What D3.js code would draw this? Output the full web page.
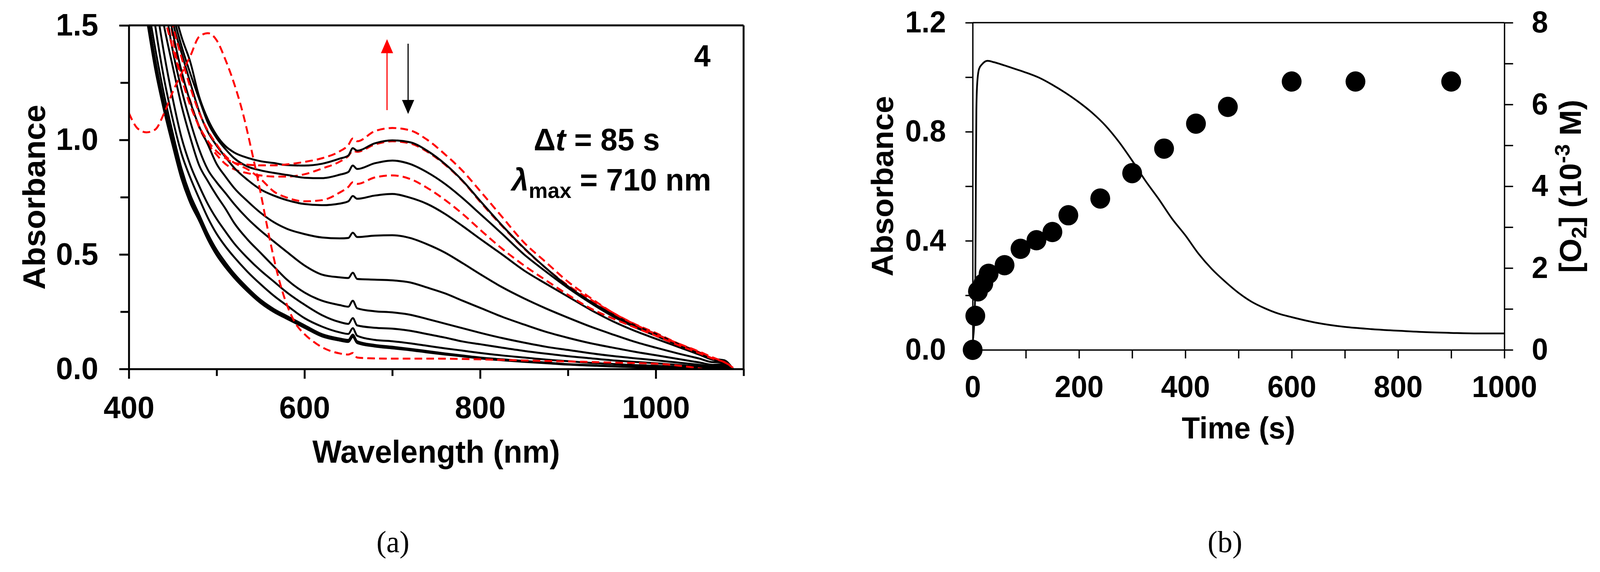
<!DOCTYPE html>
<html>
<head>
<meta charset="utf-8">
<script src="https://cdn.jsdelivr.net/npm/d3@7"></script>
<style>
  html, body { margin: 0; padding: 0; background: #fff; overflow: hidden; }
  svg { display: block; background: #fff; width: 100vw; height: 100vh; }
  text { font-family: "Liberation Sans", Arial, Helvetica, sans-serif; font-weight: bold; fill: #000; }
  .panel-label { font-family: "Liberation Serif", "Times New Roman", serif; font-weight: normal; }
  .axisA path, .axisA line { stroke: #000; stroke-width: 5; }
  .axisB path, .axisB line { stroke: #000; stroke-width: 3.5; }
</style>
</head>
<body>
<svg id="chart" viewBox="0 0 4198 1465" preserveAspectRatio="none"></svg>
<script>
// ---------------- panel (a): spectra ----------------
// shared wavelength grid (nm) for the time-resolved spectra
var wl = [420, 430, 440, 450, 460, 470, 480, 490, 500, 510,
          520, 535, 550, 565, 580, 600, 620, 640, 650, 655,
          660, 680, 700, 720, 740, 760, 780, 800, 825, 850,
          875, 900, 925, 950, 975, 1000, 1025, 1050, 1065, 1078, 1088];

// black solid spectra, top to bottom
var spec1 = [null, null, 1.85, 1.60, 1.45, 1.34, 1.19, 1.09, 1.02, 0.973,
             0.945, 0.922, 0.907, 0.899, 0.890, 0.888, 0.896, 0.918, 0.932, 0.964,
             0.953, 0.985, 0.998, 0.990, 0.952, 0.895, 0.822, 0.734, 0.627, 0.528,
             0.440, 0.361, 0.296, 0.240, 0.192, 0.153, 0.110, 0.070, 0.045, 0.038, 0.0];
var spec2 = [null, null, 1.80, 1.56, 1.41, 1.29, 1.18, 1.075, 1.008, 0.96,
             0.92, 0.884, 0.867, 0.856, 0.847, 0.835, 0.833, 0.848, 0.860, 0.888,
             0.873, 0.898, 0.910, 0.895, 0.858, 0.808, 0.746, 0.677, 0.590, 0.500,
             0.425, 0.354, 0.290, 0.232, 0.184, 0.145, 0.105, 0.067, 0.043, 0.036, 0.0];
var spec3 = [null, null, 1.78, 1.52, 1.38, 1.25, 1.125, 1.035, 0.975, 0.925,
             0.878, 0.826, 0.784, 0.757, 0.737, 0.720, 0.715, 0.722, 0.732, 0.755,
             0.743, 0.757, 0.764, 0.748, 0.720, 0.677, 0.624, 0.568, 0.500, 0.430,
             0.372, 0.316, 0.260, 0.210, 0.168, 0.132, 0.097, 0.062, 0.040, 0.034, 0.0];
var spec4 = [null, null, 1.68, 1.47, 1.30, 1.165, 1.06, 0.98, 0.895, 0.84,
             0.79, 0.733, 0.682, 0.641, 0.612, 0.589, 0.574, 0.570, 0.572, 0.595,
             0.576, 0.582, 0.584, 0.572, 0.544, 0.508, 0.462, 0.414, 0.357, 0.308,
             0.264, 0.224, 0.186, 0.152, 0.120, 0.093, 0.068, 0.045, 0.030, 0.030, 0.0];
var spec5 = [null, null, 1.62, 1.39, 1.22, 1.08, 0.96, 0.87, 0.815, 0.768,
             0.72, 0.657, 0.604, 0.557, 0.511, 0.452, 0.412, 0.400, 0.397, 0.420,
             0.393, 0.390, 0.387, 0.378, 0.355, 0.330, 0.298, 0.267, 0.228, 0.194,
             0.162, 0.136, 0.113, 0.094, 0.076, 0.060, 0.044, 0.028, 0.018, 0.022, 0.0];
var spec6 = [null, 1.72, 1.50, 1.32, 1.15, 1.01, 0.89, 0.82, 0.757, 0.70,
             0.637, 0.566, 0.507, 0.448, 0.39, 0.334, 0.298, 0.279, 0.272, 0.298,
             0.265, 0.252, 0.247, 0.237, 0.218, 0.198, 0.178, 0.158, 0.135, 0.115,
             0.097, 0.083, 0.069, 0.057, 0.047, 0.038, 0.028, 0.018, 0.012, 0.016, 0.0];
var spec7 = [null, 1.62, 1.38, 1.18, 1.01, 0.89, 0.80, 0.72, 0.655, 0.60,
             0.548, 0.485, 0.43, 0.382, 0.334, 0.281, 0.235, 0.205, 0.197, 0.222,
             0.19, 0.18, 0.176, 0.167, 0.152, 0.137, 0.12, 0.108, 0.093, 0.079,
             0.067, 0.056, 0.047, 0.038, 0.031, 0.025, 0.018, 0.011, 0.007, 0.012, 0.0];
var spec8 = [1.78, 1.50, 1.27, 1.09, 0.94, 0.835, 0.745, 0.66, 0.59, 0.535,
             0.488, 0.425, 0.37, 0.32, 0.277, 0.222, 0.185, 0.16, 0.153, 0.178,
             0.145, 0.127, 0.121, 0.112, 0.101, 0.09, 0.08, 0.07, 0.059, 0.05,
             0.041, 0.034, 0.027, 0.022, 0.017, 0.014, 0.01, 0.006, 0.004, 0.01, 0.0];
var spec9 = [1.62, 1.40, 1.20, 1.03, 0.875, 0.76, 0.675, 0.59, 0.52, 0.465,
             0.416, 0.355, 0.302, 0.262, 0.231, 0.191, 0.152, 0.133, 0.127, 0.15,
             0.121, 0.105, 0.097, 0.088, 0.078, 0.068, 0.059, 0.05, 0.042, 0.035,
             0.028, 0.021, 0.017, 0.013, 0.01, 0.007, 0.005, 0.003, 0.002, 0.007, 0.0];
var spec10 = [1.58, 1.35, 1.16, 1.0, 0.85, 0.74, 0.66, 0.575, 0.505, 0.452,
              0.405, 0.345, 0.293, 0.254, 0.224, 0.185, 0.146, 0.128, 0.122, 0.145,
              0.117, 0.101, 0.093, 0.085, 0.075, 0.065, 0.057, 0.048, 0.04, 0.033,
              0.027, 0.02, 0.016, 0.012, 0.009, 0.006, 0.004, 0.002, 0.001, 0.006, 0.0];
var spec11 = [1.54, 1.31, 1.13, 0.975, 0.83, 0.725, 0.648, 0.565, 0.497, 0.444,
              0.398, 0.339, 0.288, 0.249, 0.219, 0.180, 0.142, 0.124, 0.118, 0.14,
              0.113, 0.098, 0.09, 0.082, 0.072, 0.063, 0.055, 0.046, 0.038, 0.031,
              0.025, 0.019, 0.015, 0.011, 0.008, 0.005, 0.003, 0.001, 0.0, 0.005, 0.0];

// red dashed spectra
var redTop = [null, 1.75, 1.55, 1.40, 1.27, 1.15, 1.06, 0.995, 0.95, 0.92,
              0.90, 0.892, 0.889, 0.889, 0.893, 0.904, 0.92, 0.95, 0.978, 1.006,
              0.994, 1.038, 1.052, 1.042, 1.0, 0.937, 0.865, 0.777, 0.664, 0.552,
              0.466, 0.381, 0.312, 0.248, 0.197, 0.152, 0.112, 0.075, 0.05, 0.03, 0.008];
var redMid = [null, null, 1.75, 1.45, 1.28, 1.17, 1.055, 0.985, 0.935, 0.895,
              0.872, 0.855, 0.845, 0.84, 0.84, 0.85, 0.875, 0.905, 0.93, 0.952,
              0.948, 0.98, 0.994, 0.985, 0.948, 0.892, 0.82, 0.73, 0.624, 0.526,
              0.44, 0.365, 0.305, 0.248, 0.198, 0.157, 0.112, 0.072, 0.046, 0.035, 0.0];
var redLow = [null, null, 1.68, 1.50, 1.36, 1.23, 1.12, 1.04, 0.98, 0.93,
              0.90, 0.872, 0.83, 0.775, 0.748, 0.732, 0.737, 0.77, 0.795, 0.815,
              0.808, 0.836, 0.845, 0.83, 0.79, 0.738, 0.677, 0.608, 0.525, 0.452,
              0.387, 0.324, 0.266, 0.222, 0.183, 0.145, 0.105, 0.068, 0.045, 0.03, 0.005];

// starting spectrum (red dashed, band at 490 nm) on its own grid
var wlStart = [400, 410, 420, 430, 440, 450, 460, 470, 480, 490,
               500, 510, 520, 530, 540, 550, 560, 570, 580, 590,
               600, 610, 620, 640, 650, 655, 660, 680, 700, 750,
               800, 850, 900, 950, 1000, 1025, 1040, 1053];
var absStart = [1.118, 1.05, 1.033, 1.045, 1.115, 1.21, 1.29, 1.366, 1.45, 1.466,
                1.435, 1.35, 1.245, 1.115, 0.95, 0.77, 0.575, 0.405, 0.28, 0.198,
                0.152, 0.12, 0.095, 0.068, 0.063, 0.07, 0.05, 0.046, 0.045, 0.045,
                0.042, 0.037, 0.033, 0.028, 0.023, 0.015, 0.008, 0.0];

var blackSpectra = [spec1, spec2, spec3, spec4, spec5, spec6, spec7, spec8, spec9, spec10, spec11];

// arrows: [wavelength, from A, to A]
var arrowUp = [694, 1.13, 1.44];
var arrowDown = [718, 1.42, 1.113];

// ---------------- panel (b): kinetics ----------------
var timeTrace = [0, 3, 5, 6, 7, 8.5, 12, 18, 28, 40,
                 60, 80, 100, 125, 150, 175, 200, 225, 250, 275,
                 300, 325, 350, 375, 400, 425, 450, 475, 500, 525,
                 550, 575, 600, 650, 700, 750, 800, 850, 900, 950, 1000];
var absTrace = [0.03, 0.10, 0.25, 0.60, 0.88, 0.975, 1.03, 1.048, 1.06, 1.055,
                1.043, 1.03, 1.017, 0.998, 0.972, 0.942, 0.908, 0.869, 0.822, 0.763,
                0.694, 0.62, 0.553, 0.481, 0.42, 0.352, 0.296, 0.25, 0.209, 0.176,
                0.152, 0.133, 0.12, 0.098, 0.084, 0.076, 0.07, 0.065, 0.062, 0.06, 0.06];

var timeO2 = [0, 5, 10, 20, 30, 60, 90, 120, 150, 180, 240, 300, 360, 420, 480, 600, 720, 900];
var o2 = [0, 0.83, 1.43, 1.62, 1.86, 2.07, 2.47, 2.68, 2.88, 3.29, 3.70, 4.32, 4.92, 5.53, 5.94, 6.56, 6.56, 6.56];

var ticksA_x = d3.range(400, 1101, 100);
var ticksA_y = [0, 0.25, 0.5, 0.75, 1.0, 1.25, 1.5];
var ticksB_x = d3.range(0, 1001, 100);
var ticksB_y = [0, 0.2, 0.4, 0.6, 0.8, 1.0, 1.2];
var ticksB_y2 = [0, 1, 2, 3, 4, 5, 6, 7, 8];

// =====================================================
var svg = d3.select("#chart");

function pairs(xs, ys) {
  return xs.map(function(x, i) { return [x, ys[i]]; });
}

// ---- panel (a) ----
var xA = d3.scaleLinear().domain([400, 1100]).range([338, 1951]);
var yA = d3.scaleLinear().domain([0, 1.5]).range([945, 65]);

svg.append("clipPath").attr("id", "clipA").append("rect")
  .attr("x", xA(400)).attr("y", yA(1.5))
  .attr("width", xA(1100) - xA(400)).attr("height", yA(0) - yA(1.5));

var lineA = d3.line()
  .defined(function(d) { return d[1] != null; })
  .x(function(d) { return xA(d[0]); })
  .y(function(d) { return yA(d[1]); })
  .curve(d3.curveMonotoneX);

var plotA = svg.append("g").attr("clip-path", "url(#clipA)");

function dashed(values, xs) {
  plotA.append("path")
    .datum(pairs(xs, values))
    .attr("d", lineA)
    .attr("fill", "none")
    .attr("stroke", "#ff0000")
    .attr("stroke-width", 5)
    .attr("stroke-dasharray", "20,11");
}

// the red trace hidden under the top black one goes first
dashed(redMid, wl);

plotA.selectAll("path.black")
  .data(blackSpectra)
  .enter().append("path")
    .attr("class", "black")
    .attr("d", function(s) { return lineA(pairs(wl, s)); })
    .attr("fill", "none")
    .attr("stroke", "#000")
    .attr("stroke-width", 5);

dashed(redTop, wl);
dashed(redLow, wl);
dashed(absStart, wlStart);

// axes (a)
var isMajorA = function(d) { return Math.abs(d * 2 - Math.round(d * 2)) < 1e-9; };
var yAxisA = svg.append("g").attr("class", "axisA")
  .attr("transform", "translate(" + xA(400) + ",0)")
  .call(d3.axisLeft(yA).tickValues(ticksA_y).tickSize(25).tickSizeOuter(0).tickPadding(55)
    .tickFormat(function(d) { return isMajorA(d) ? d3.format(".1f")(d) : ""; }))
  .attr("font-size", 80);
yAxisA.selectAll(".tick").filter(function(d) { return !isMajorA(d); })
  .select("line").attr("x2", -22);

var xAxisA = svg.append("g").attr("class", "axisA")
  .attr("transform", "translate(0," + yA(0) + ")")
  .call(d3.axisBottom(xA).tickValues(ticksA_x).tickSize(25).tickSizeOuter(0).tickPadding(44)
    .tickFormat(function(d) { return d % 200 === 0 ? d : ""; }))
  .attr("font-size", 80);
xAxisA.selectAll(".tick").filter(function(d) { return d % 200 !== 0; })
  .select("line").attr("y2", 18);

// frame top and right
svg.append("line").attr("x1", xA(400)).attr("x2", xA(1100)).attr("y1", yA(1.5)).attr("y2", yA(1.5))
  .attr("stroke", "#000").attr("stroke-width", 5);
svg.append("line").attr("x1", xA(1100)).attr("x2", xA(1100)).attr("y1", yA(1.5)).attr("y2", yA(0))
  .attr("stroke", "#000").attr("stroke-width", 5);

svg.append("text")
  .attr("transform", "translate(118," + yA(0.75) + ") rotate(-90)")
  .attr("text-anchor", "middle").attr("font-size", 82)
  .text("Absorbance");
svg.append("text")
  .attr("x", xA(750)).attr("y", 1185)
  .attr("text-anchor", "middle").attr("font-size", 81)
  .text("Wavelength (nm)");

// annotations
svg.append("text").attr("x", xA(1053)).attr("y", yA(1.321))
  .attr("text-anchor", "middle").attr("font-size", 78).text("4");

var dt = svg.append("text").attr("x", xA(861)).attr("y", yA(0.954)).attr("font-size", 80);
dt.append("tspan").text("\u0394");
dt.append("tspan").attr("font-style", "italic").text("t");
dt.append("tspan").text(" = 85 s");

var lm = svg.append("text").attr("x", xA(836)).attr("y", yA(0.779)).attr("font-size", 80);
lm.append("tspan").attr("font-style", "italic").text("\u03bb");
lm.append("tspan").attr("font-size", 56).attr("dy", 19).text("max");
lm.append("tspan").attr("dy", -19).text(" = 710 nm");

function arrow(spec, color, width) {
  var x = xA(spec[0]), y0 = yA(spec[1]), y1 = yA(spec[2]);
  var dir = y1 < y0 ? 1 : -1;
  var head = 36, half = 16;
  svg.append("line").attr("x1", x).attr("x2", x).attr("y1", y0).attr("y2", y1 + dir * head * 0.8)
    .attr("stroke", color).attr("stroke-width", width);
  svg.append("path")
    .attr("d", "M" + x + "," + y1 + "L" + (x - half) + "," + (y1 + dir * head) +
      "L" + (x + half) + "," + (y1 + dir * head) + "Z")
    .attr("fill", color);
}
arrow(arrowUp, "#ff0000", 3);
arrow(arrowDown, "#000", 3);

svg.append("text").attr("class", "panel-label")
  .attr("x", 1031).attr("y", 1414).attr("text-anchor", "middle").attr("font-size", 78)
  .text("(a)");

// ---- panel (b) ----
var xB = d3.scaleLinear().domain([0, 1000]).range([2552, 3947]);
var yB = d3.scaleLinear().domain([0, 1.2]).range([896, 58]);
var yB2 = d3.scaleLinear().domain([0, 8]).range([896, 58]);

svg.append("clipPath").attr("id", "clipB").append("rect")
  .attr("x", xB(0)).attr("y", yB(1.2))
  .attr("width", xB(1000) - xB(0)).attr("height", yB(0) - yB(1.2));

var lineB = d3.line()
  .x(function(d) { return xB(d[0]); })
  .y(function(d) { return yB(d[1]); })
  .curve(d3.curveMonotoneX);

svg.append("g").attr("clip-path", "url(#clipB)")
  .append("path")
    .datum(pairs(timeTrace, absTrace))
    .attr("d", lineB)
    .attr("fill", "none")
    .attr("stroke", "#000")
    .attr("stroke-width", 4.5);

var isMajorB = function(d) { return Math.abs(d / 0.4 - Math.round(d / 0.4)) < 1e-9; };
svg.append("g").attr("class", "axisB")
  .attr("transform", "translate(" + xB(0) + ",0)")
  .call(d3.axisLeft(yB).tickValues(ticksB_y).tickSize(19).tickSizeOuter(0).tickPadding(51)
    .tickFormat(function(d) { return isMajorB(d) ? d3.format(".1f")(d) : ""; }))
  .attr("font-size", 77);

svg.append("g").attr("class", "axisB")
  .attr("transform", "translate(" + xB(1000) + ",0)")
  .call(d3.axisRight(yB2).tickValues(ticksB_y2).tickSize(23).tickSizeOuter(0).tickPadding(49)
    .tickFormat(function(d) { return d % 2 === 0 ? d : ""; }))
  .attr("font-size", 77);

svg.append("g").attr("class", "axisB")
  .attr("transform", "translate(0," + yB(0) + ")")
  .call(d3.axisBottom(xB).tickValues(ticksB_x).tickSize(22).tickSizeOuter(0).tickPadding(44)
    .tickFormat(function(d) { return d % 200 === 0 ? d : ""; }))
  .attr("font-size", 77);

svg.append("line").attr("x1", xB(0)).attr("x2", xB(1000)).attr("y1", yB(1.2)).attr("y2", yB(1.2))
  .attr("stroke", "#000").attr("stroke-width", 3.5);

svg.selectAll("circle.o2")
  .data(pairs(timeO2, o2))
  .enter().append("circle")
    .attr("class", "o2")
    .attr("cx", function(d) { return xB(d[0]); })
    .attr("cy", function(d) { return yB2(d[1]); })
    .attr("r", 26)
    .attr("fill", "#000");

svg.append("text")
  .attr("transform", "translate(2343," + yB(0.6) + ") rotate(-90)")
  .attr("text-anchor", "middle").attr("font-size", 80)
  .text("Absorbance");

// right axis title
var o2Title = svg.append("text")
  .attr("transform", "translate(4148," + yB(0.6) + ") rotate(-90)")
  .attr("text-anchor", "middle").attr("font-size", 79);
o2Title.append("tspan").text("[O");
o2Title.append("tspan").attr("font-size", 55).attr("dy", 14).text("2");
o2Title.append("tspan").attr("dy", -14).text("] (10");
o2Title.append("tspan").attr("font-size", 55).attr("dy", -30).text("-3");
o2Title.append("tspan").attr("dy", 30).text(" M)");

svg.append("text")
  .attr("x", xB(500)).attr("y", 1123)
  .attr("text-anchor", "middle").attr("font-size", 78)
  .text("Time (s)");

svg.append("text").attr("class", "panel-label")
  .attr("x", 3214).attr("y", 1414).attr("text-anchor", "middle").attr("font-size", 78)
  .text("(b)");
</script>
</body>
</html>
